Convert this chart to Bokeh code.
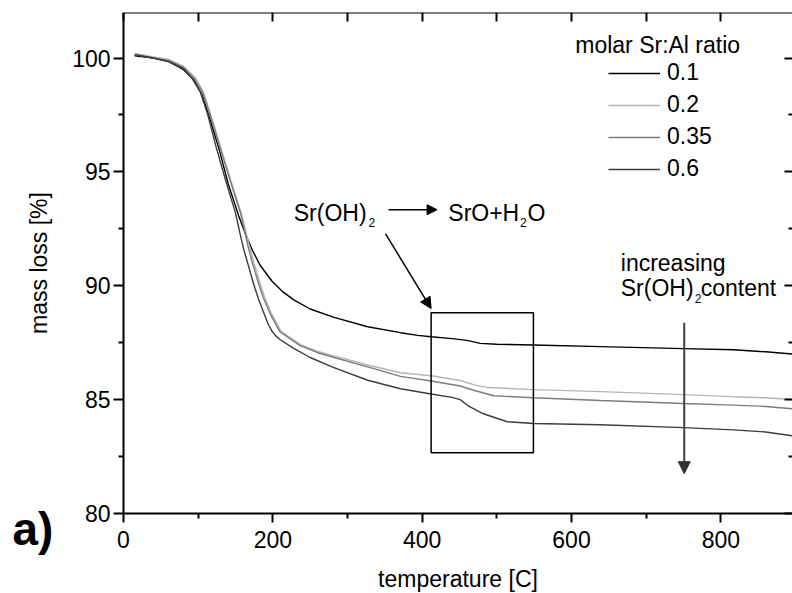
from bokeh.plotting import figure
from bokeh.models import (Range1d, LinearAxis, FixedTicker, Legend, LegendItem,
                          Label, Arrow, NormalHead, BoxAnnotation)
from bokeh.embed import file_html
from bokeh.resources import INLINE

FONT = "Liberation Sans"

# ---------------- data ----------------
ratio_labels = ["0.1", "0.2", "0.35", "0.6"]
ratio_colors = ["#000000", "#b4b4b4", "#7c7c7c", "#3c3c3c"]

T_01 = [15, 40, 60, 80, 94, 105, 115, 128, 140, 154, 163, 172, 183, 199, 214, 228,
        250, 281, 327, 371, 394, 412, 440, 460, 478, 500, 549, 639, 750, 817, 860, 896]
m_01 = [100.1, 100.0, 99.85, 99.5, 99.05, 98.4, 97.4, 96.0, 94.5, 93.1, 92.3, 91.6, 90.9,
        90.2, 89.72, 89.38, 88.98, 88.62, 88.2, 87.94, 87.82, 87.76, 87.68, 87.6, 87.47,
        87.43, 87.4, 87.33, 87.24, 87.19, 87.1, 87.0]

T_02 = [15, 40, 60, 80, 96, 107, 117, 130, 144, 158, 169, 175, 182, 189, 198, 211, 237,
        260, 281, 327, 371, 412, 451, 470, 488, 549, 639, 750, 817, 860, 896]
m_02 = [100.2, 100.05, 99.95, 99.65, 99.15, 98.5, 97.5, 96.1, 94.6, 93.16, 91.7, 90.96,
        90.2, 89.5, 88.8, 88.0, 87.42, 87.12, 86.93, 86.52, 86.18, 86.05, 85.84, 85.65,
        85.53, 85.44, 85.35, 85.22, 85.13, 85.08, 85.0]

T_035 = [15, 40, 60, 80, 95, 106, 116, 129, 143, 157, 167, 173, 180, 187, 196, 209, 236,
         260, 281, 327, 371, 412, 451, 470, 496, 549, 639, 750, 817, 860, 896]
m_035 = [100.15, 100.0, 99.9, 99.6, 99.1, 98.5, 97.5, 96.1, 94.6, 93.16, 91.7, 90.96,
         90.2, 89.5, 88.8, 88.0, 87.38, 87.06, 86.86, 86.44, 86.02, 85.82, 85.6, 85.4,
         85.17, 85.08, 84.96, 84.83, 84.76, 84.7, 84.6]

T_06 = [15, 40, 60, 80, 92, 103, 113, 124, 137, 150, 156, 161, 168, 174, 181, 188, 194,
        199, 204, 210, 228, 250, 281, 327, 371, 412, 440, 451, 461, 482, 514, 549, 639,
        750, 817, 860, 896]
m_06 = [100.15, 100.0, 99.85, 99.55, 99.1, 98.5, 97.5, 96.1, 94.6, 93.2, 92.3, 91.6,
        90.8, 90.1, 89.4, 88.8, 88.3, 88.0, 87.8, 87.63, 87.25, 86.85, 86.42, 85.85, 85.48,
        85.25, 85.1, 85.0, 84.74, 84.38, 84.03, 83.95, 83.9, 83.77, 83.67, 83.58, 83.41]

series_T = [T_01, T_02, T_035, T_06]
series_m = [m_01, m_02, m_035, m_06]

x_major = [0, 200, 400, 600, 800]
x_minor = [100, 300, 500, 700]
x_top = [0, 100, 200, 300, 400, 500, 600, 700, 800]
y_major = [80, 85, 90, 95, 100]
y_minor = [82.5, 87.5, 92.5, 97.5]

# axis extents (the drawn box) and the visible window around it
x_axis_bounds = (0, 896)
y_axis_bounds = (80, 102)
x_view = (-164.74, 896)
y_view = (76.487, 102)

# annotation anchors (data units)
box_T = [412, 549]
box_m = [82.67, 88.82]
reaction_arrow_T = [355, 420]
reaction_arrow_m = [93.34, 93.34]
pointer_arrow_T = [351, 412]
pointer_arrow_m = [92.28, 89.0]
trend_arrow_T = [751, 751]
trend_arrow_m = [88.38, 81.75]

# ---------------- figure ----------------
p = figure(width=792, height=593, output_backend="svg", toolbar_location=None,
           x_range=Range1d(*x_view), y_range=Range1d(*y_view),
           x_axis_type=None, y_axis_type=None,
           min_border_left=0, min_border_right=0, min_border_top=12,
           min_border_bottom=0)
p.outline_line_color = None
p.background_fill_color = "white"
p.border_fill_color = "white"


def style_axis(ax, tick_out, minor_out, tick_in=0, minor_in=0):
    ax.axis_line_width = 2
    ax.axis_line_color = "black"
    ax.major_tick_out = tick_out
    ax.major_tick_in = tick_in
    ax.minor_tick_out = minor_out
    ax.minor_tick_in = minor_in
    ax.major_tick_line_width = 2
    ax.minor_tick_line_width = 2
    ax.major_tick_line_color = "black"
    ax.minor_tick_line_color = "black"
    ax.major_label_text_font = FONT
    ax.major_label_text_color = "black"
    ax.major_label_text_font_size = "23px"
    ax.axis_label_text_font = FONT
    ax.axis_label_text_font_style = "normal"
    ax.axis_label_text_color = "black"
    ax.axis_label_text_font_size = "23px"


xb = LinearAxis(ticker=FixedTicker(ticks=x_major, minor_ticks=x_minor),
                axis_label="temperature [C]", bounds=x_axis_bounds,
                fixed_location=y_axis_bounds[0])
style_axis(xb, 9, 5)
xb.major_label_standoff = 9
xb.axis_label_standoff = 14
p.add_layout(xb, "below")

yl = LinearAxis(ticker=FixedTicker(ticks=y_major, minor_ticks=y_minor),
                axis_label="mass loss [%]", bounds=y_axis_bounds,
                fixed_location=x_axis_bounds[0])
style_axis(yl, 10, 5)
yl.major_label_standoff = 3
yl.axis_label_standoff = 17
p.add_layout(yl, "left")

xt = LinearAxis(ticker=FixedTicker(ticks=x_top, minor_ticks=[]),
                major_label_overrides={t: "" for t in x_top}, bounds=x_axis_bounds,
                fixed_location=y_axis_bounds[1])
style_axis(xt, 0, 0, tick_in=9, minor_in=0)
xt.major_label_standoff = 0
p.add_layout(xt, "above")

yr = LinearAxis(ticker=FixedTicker(ticks=y_major, minor_ticks=y_minor),
                major_label_overrides={t: "" for t in y_major}, bounds=y_axis_bounds,
                fixed_location=x_axis_bounds[1])
style_axis(yr, 0, 0, tick_in=8, minor_in=4)
yr.major_label_standoff = 0
yr.axis_line_color = None
p.add_layout(yr, "right")

# ---------------- curves ----------------
items = []
for lab, col, T, m in zip(ratio_labels, ratio_colors, series_T, series_m):
    r = p.line(T, m, line_color=col, line_width=1.4)
    items.append(LegendItem(label=lab, renderers=[r]))

legend = Legend(items=items, location=(608, 411),
                label_text_font=FONT, label_text_font_size="23px",
                label_text_color="black",
                glyph_width=52, glyph_height=26, label_height=26,
                label_standoff=7, spacing=5, padding=0, margin=0,
                background_fill_alpha=0, border_line_alpha=0)
p.add_layout(legend)

# ---------------- annotations ----------------
p.add_layout(BoxAnnotation(left=box_T[0], right=box_T[1], bottom=box_m[0], top=box_m[1],
                           fill_alpha=0, line_color="black", line_alpha=1.0,
                           line_width=1.5))

p.add_layout(Arrow(end=NormalHead(size=10, fill_color="black", line_color="black"),
                   x_start=reaction_arrow_T[0], y_start=reaction_arrow_m[0],
                   x_end=reaction_arrow_T[1], y_end=reaction_arrow_m[1],
                   line_color="black", line_width=1.5))
p.add_layout(Arrow(end=NormalHead(size=11, fill_color="black", line_color="black"),
                   x_start=pointer_arrow_T[0], y_start=pointer_arrow_m[0],
                   x_end=pointer_arrow_T[1], y_end=pointer_arrow_m[1],
                   line_color="black", line_width=1.5))
p.add_layout(Arrow(end=NormalHead(size=12, fill_color="#303030", line_color="#303030"),
                   x_start=trend_arrow_T[0], y_start=trend_arrow_m[0],
                   x_end=trend_arrow_T[1], y_end=trend_arrow_m[1],
                   line_color="#404040", line_width=2))


def txt(x, y, s, size="23px", style="normal"):
    p.add_layout(Label(x=x, y=y, text=s, text_font=FONT, text_font_size=size,
                       text_font_style=style, text_baseline="alphabetic",
                       text_color="black"))


txt(605, 100.56, "molar Sr:Al ratio")

txt(228, 93.21, "Sr(OH)")
txt(328, 92.76, "2", "12px")
txt(435, 93.21, "SrO+H")
txt(531, 92.76, "2", "12px")
txt(541, 93.21, "O")

txt(666, 91.0, "increasing")
txt(666, 89.89, "Sr(OH)")
txt(765, 89.45, "2", "12px")
txt(773, 89.89, "content")

txt(-148.7, 79.3, "a)", "46px", "bold")

open("out.html", "w").write(file_html(p, INLINE))
